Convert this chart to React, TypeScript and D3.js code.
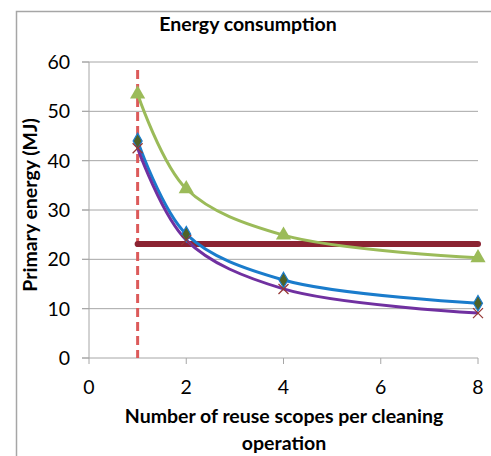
import React from "react";
import * as d3 from "d3";

const xValues = [1, 2, 4, 8];
const seriesGreen = [53.5, 34.3, 24.9, 20.3];
const seriesBlue = [44.0, 25.1, 15.8, 11.1];
const seriesPurple = [42.5, 23.9, 14.0, 9.1];
const refLineValue = 23.1;
const refLineX = [1, 8];
const dashedX = 1;
const dashedTop = 58.4;
const xTicks = [0, 2, 4, 6, 8];
const yTicks = [0, 10, 20, 30, 40, 50, 60];

const W = 491;
const H = 456;
const FONT = "Lato, 'Open Sans', sans-serif";

export default function App() {
  const x = d3.scaleLinear().domain([0, 8]).range([89, 478]);
  const y = d3.scaleLinear().domain([0, 60]).range([358, 62]);
  const line = d3
    .line<[number, number]>()
    .x((d) => x(d[0]))
    .y((d) => y(d[1]))
    .curve(d3.curveCatmullRom.alpha(0.5));
  const pts = (vals: number[]) => xValues.map((v, i) => [v, vals[i]] as [number, number]);

  const tri = d3.symbol().type(d3.symbolTriangle).size(100)();
  const dia = d3.symbol().type(d3.symbolDiamond).size(70)();

  return (
    <svg width={W} height={H} style={{ position: "absolute", left: 0, top: 0 }}>
      <rect x={0} y={0} width={W} height={H} fill="#fff" />
      <path d={`M16.5,${H} V11.5 H${W}`} fill="none" stroke="#a6a6a6" strokeWidth={1.5} />
      <text x={248} y={31} textAnchor="middle" fontFamily={FONT} fontWeight="bold" fontSize={19.5} fill="#000">
        Energy consumption
      </text>
      {yTicks.map((t) => (
        <g key={t}>
          {t > 0 && <line x1={82} x2={478} y1={y(t)} y2={y(t)} stroke="#a6a6a6" strokeWidth={1} />}
          <line x1={82} x2={89} y1={y(t)} y2={y(t)} stroke="#a6a6a6" strokeWidth={1} />
          <text x={70} y={y(t) + 7} textAnchor="end" fontFamily={FONT} fontSize={19.5} fill="#000">
            {t}
          </text>
        </g>
      ))}
      <line x1={89} x2={89} y1={62} y2={358} stroke="#a6a6a6" strokeWidth={1} />
      <line x1={82} x2={478} y1={358} y2={358} stroke="#a6a6a6" strokeWidth={1} />
      {xTicks.map((t) => (
        <g key={t}>
          <line x1={x(t)} x2={x(t)} y1={358} y2={364} stroke="#a6a6a6" strokeWidth={1} />
          <text x={x(t)} y={394} textAnchor="middle" fontFamily={FONT} fontSize={19.5} fill="#000">
            {t}
          </text>
        </g>
      ))}
      <text
        transform={`translate(37,205) rotate(-90)`}
        textAnchor="middle"
        fontFamily={FONT}
        fontWeight="bold"
        fontSize={19.5}
        fill="#000"
      >
        Primary energy (MJ)
      </text>
      <text x={284} y={423} textAnchor="middle" fontFamily={FONT} fontWeight="bold" fontSize={19.5} fill="#000">
        Number of reuse scopes per cleaning
      </text>
      <text x={284} y={450} textAnchor="middle" fontFamily={FONT} fontWeight="bold" fontSize={19.5} fill="#000">
        operation
      </text>

      <line
        x1={x(dashedX)}
        x2={x(dashedX)}
        y1={y(dashedTop)}
        y2={y(0)}
        stroke="#dc5a5a"
        strokeWidth={3}
        strokeDasharray="9,5"
      />
      <line
        x1={x(refLineX[0])}
        x2={x(refLineX[1])}
        y1={y(refLineValue)}
        y2={y(refLineValue)}
        stroke="#8b2332"
        strokeWidth={6}
        strokeLinecap="round"
      />

      <path d={line(pts(seriesGreen)) || ""} fill="none" stroke="#9bbb59" strokeWidth={3} />
      <path d={line(pts(seriesBlue)) || ""} fill="none" stroke="#1a7ccc" strokeWidth={3} />
      <path d={line(pts(seriesPurple)) || ""} fill="none" stroke="#7030a0" strokeWidth={3} />

      {pts(seriesGreen).map((d, i) => (
        <path key={"g" + i} d={tri || ""} transform={`translate(${x(d[0])},${y(d[1])})`} fill="#9bbb59" />
      ))}
      {pts(seriesBlue).map((d, i) => (
        <path
          key={"b" + i}
          d={dia || ""}
          transform={`translate(${x(d[0])},${y(d[1])})`}
          fill="#4f6228"
          stroke="#1a7ccc"
          strokeWidth={1.2}
        />
      ))}
      {pts(seriesPurple).map((d, i) => (
        <g key={"p" + i} transform={`translate(${x(d[0])},${y(d[1])})`} stroke="#953735" strokeWidth={1.3}>
          <line x1={-5} y1={-5} x2={5} y2={5} />
          <line x1={-5} y1={5} x2={5} y2={-5} />
        </g>
      ))}
    </svg>
  );
}
